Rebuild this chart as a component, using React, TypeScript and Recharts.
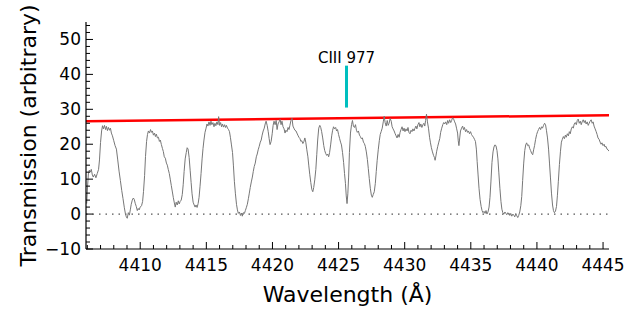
import {
  LineChart,
  Line,
  XAxis,
  YAxis,
  ReferenceLine,
  ReferenceDot,
  Label
} from 'recharts';

// wavelength (Å) and transmission
const wavelengths = [
  4405.95, 4406.02, 4406.08, 4406.15, 4406.22, 4406.3, 4406.38, 4406.45, 4406.55, 4406.65, 4406.75, 4406.85, 4406.92,
  4407.0, 4407.08, 4407.15, 4407.22, 4407.3, 4407.38, 4407.45, 4407.52, 4407.6, 4407.68, 4407.75, 4407.82, 4407.9,
  4408.0, 4408.1, 4408.2, 4408.3, 4408.4, 4408.5, 4408.6, 4408.7, 4408.8, 4408.88, 4408.95,
  4409.02, 4409.1, 4409.18, 4409.25, 4409.32, 4409.4, 4409.48, 4409.55, 4409.62, 4409.7, 4409.78, 4409.85, 4409.92,
  4410.0, 4410.1, 4410.18, 4410.25, 4410.33, 4410.4, 4410.48, 4410.55, 4410.62, 4410.7, 4410.78, 4410.85, 4410.92,
  4411.0, 4411.08, 4411.15, 4411.22, 4411.3, 4411.38, 4411.45, 4411.52, 4411.6, 4411.68, 4411.75, 4411.82, 4411.9, 4411.98,
  4412.05, 4412.12, 4412.2, 4412.28, 4412.35, 4412.42, 4412.5, 4412.58, 4412.65, 4412.72, 4412.8, 4412.88, 4412.95,
  4413.02, 4413.1, 4413.18, 4413.25, 4413.32, 4413.4, 4413.48, 4413.55, 4413.62, 4413.7, 4413.78, 4413.85, 4413.92,
  4414.0, 4414.08, 4414.15, 4414.22, 4414.3, 4414.38, 4414.45, 4414.52, 4414.6, 4414.68, 4414.75, 4414.82, 4414.9, 4414.98,
  4415.05, 4415.12, 4415.2, 4415.28, 4415.35, 4415.42, 4415.5, 4415.58, 4415.65, 4415.72, 4415.8, 4415.88, 4415.93,
  4416.0, 4416.08, 4416.15, 4416.22, 4416.3, 4416.38, 4416.45, 4416.52, 4416.6, 4416.68, 4416.75, 4416.82, 4416.9, 4416.98,
  4417.05, 4417.12, 4417.2, 4417.28, 4417.35, 4417.42, 4417.5, 4417.58, 4417.65, 4417.72, 4417.8, 4417.88, 4417.95,
  4418.02, 4418.1, 4418.18, 4418.25, 4418.32, 4418.4, 4418.48, 4418.55, 4418.62, 4418.7, 4418.78, 4418.85, 4418.92,
  4419.0, 4419.08, 4419.15, 4419.22, 4419.3, 4419.38, 4419.45, 4419.52, 4419.6, 4419.68, 4419.75, 4419.82, 4419.9, 4419.98,
  4420.05, 4420.12, 4420.2, 4420.28, 4420.35, 4420.42, 4420.5, 4420.58, 4420.65, 4420.72, 4420.8, 4420.88, 4420.95,
  4421.02, 4421.1, 4421.18, 4421.25, 4421.32, 4421.4, 4421.48, 4421.55, 4421.62, 4421.7, 4421.78, 4421.85, 4421.92,
  4422.0, 4422.08, 4422.15, 4422.22, 4422.3, 4422.38, 4422.45, 4422.52, 4422.6, 4422.68, 4422.75, 4422.82, 4422.9, 4422.98,
  4423.05, 4423.12, 4423.2, 4423.28, 4423.35, 4423.42, 4423.5, 4423.58, 4423.65, 4423.72, 4423.8, 4423.88, 4423.95,
  4424.02, 4424.1, 4424.18, 4424.25, 4424.32, 4424.4, 4424.48, 4424.55, 4424.62, 4424.7, 4424.78, 4424.85, 4424.92,
  4425.0, 4425.08, 4425.15, 4425.22, 4425.3, 4425.38, 4425.45, 4425.52, 4425.58, 4425.64, 4425.7, 4425.76, 4425.82, 4425.9, 4425.98,
  4426.05, 4426.12, 4426.2, 4426.28, 4426.35, 4426.42, 4426.5, 4426.58, 4426.65, 4426.72, 4426.8, 4426.88, 4426.95,
  4427.02, 4427.1, 4427.18, 4427.25, 4427.32, 4427.4, 4427.48, 4427.55, 4427.62, 4427.7, 4427.78, 4427.85, 4427.92,
  4428.0, 4428.08, 4428.15, 4428.22, 4428.3, 4428.38, 4428.45, 4428.52, 4428.6, 4428.68, 4428.75, 4428.82, 4428.9, 4428.98,
  4429.05, 4429.12, 4429.2, 4429.28, 4429.35, 4429.42, 4429.5, 4429.58, 4429.65, 4429.72, 4429.8, 4429.88, 4429.95,
  4430.02, 4430.1, 4430.18, 4430.25, 4430.32, 4430.4, 4430.48, 4430.55, 4430.62, 4430.7, 4430.78, 4430.85, 4430.92,
  4431.0, 4431.08, 4431.15, 4431.22, 4431.3, 4431.38, 4431.45, 4431.52, 4431.58, 4431.65, 4431.72, 4431.8, 4431.88, 4431.95,
  4432.02, 4432.1, 4432.18, 4432.25, 4432.3, 4432.36, 4432.42, 4432.5, 4432.58, 4432.65, 4432.72, 4432.8, 4432.88, 4432.95,
  4433.02, 4433.1, 4433.18, 4433.25, 4433.32, 4433.4, 4433.48, 4433.55, 4433.62, 4433.7, 4433.78, 4433.85, 4433.92,
  4434.0, 4434.05, 4434.1, 4434.16, 4434.22, 4434.3, 4434.38, 4434.45, 4434.52, 4434.6, 4434.68, 4434.75, 4434.82, 4434.9, 4434.98,
  4435.05, 4435.12, 4435.2, 4435.28, 4435.35, 4435.42, 4435.48, 4435.55, 4435.62, 4435.7, 4435.78, 4435.85, 4435.92,
  4436.0, 4436.08, 4436.15, 4436.22, 4436.3, 4436.38, 4436.45, 4436.52, 4436.6, 4436.68, 4436.75, 4436.82, 4436.9, 4436.98,
  4437.05, 4437.12, 4437.2, 4437.28, 4437.35, 4437.42, 4437.5, 4437.58, 4437.65, 4437.72, 4437.8, 4437.88, 4437.95,
  4438.02, 4438.1, 4438.18, 4438.25, 4438.32, 4438.4, 4438.48, 4438.55, 4438.62, 4438.7, 4438.78, 4438.85, 4438.92,
  4439.0, 4439.08, 4439.15, 4439.22, 4439.3, 4439.38, 4439.45, 4439.52, 4439.6, 4439.68, 4439.75, 4439.82, 4439.9, 4439.98,
  4440.05, 4440.12, 4440.2, 4440.28, 4440.35, 4440.42, 4440.5, 4440.58, 4440.65, 4440.72, 4440.8, 4440.88, 4440.95,
  4441.02, 4441.1, 4441.18, 4441.25, 4441.32, 4441.4, 4441.48, 4441.55, 4441.62, 4441.7, 4441.78, 4441.85, 4441.92,
  4442.0, 4442.08, 4442.15, 4442.22, 4442.3, 4442.38, 4442.45, 4442.52, 4442.6, 4442.68, 4442.75, 4442.82, 4442.9, 4442.98,
  4443.05, 4443.12, 4443.2, 4443.28, 4443.35, 4443.42, 4443.5, 4443.58, 4443.65, 4443.72, 4443.8, 4443.88, 4443.95,
  4444.02, 4444.1, 4444.18, 4444.25, 4444.32, 4444.4, 4444.48, 4444.55, 4444.62, 4444.7, 4444.78, 4444.85, 4444.92,
  4445.0, 4445.08, 4445.15, 4445.22, 4445.3, 4445.38, 4445.45
];

const transmission = [
  3, 8, 11.5, 12.6, 12.0, 12.8, 11.2, 10.6, 11.4, 10.4, 11.6, 12.8, 15.5,
  20.5, 23.8, 25.3, 24.4, 25.4, 24.2, 25.1, 23.9, 24.8, 24.0, 24.6, 23.2, 22.4,
  21.0, 19.6, 18.6, 15.5, 12.3, 9.6, 6.8, 4.4, 1.8, 0.1, -0.8,
  -1.2, 0.4, -0.3, 1.2, 2.8, 4.0, 4.6, 4.2, 3.1, 2.2, 1.0, 1.6, 1.2,
  2.0, 2.4, 3.6, 6.5, 11.0, 16.5, 20.8, 22.8, 23.8, 23.2, 24.2, 23.4, 23.8,
  22.6, 23.2, 22.2, 22.9, 21.8, 22.0, 20.8, 21.2, 19.9, 18.8, 17.9, 16.4, 16.0, 14.6,
  14.0, 12.8, 11.6, 9.8, 8.2, 6.6, 4.8, 3.2, 2.0, 3.4, 2.6, 3.8, 2.9,
  3.6, 4.0, 5.6, 8.4, 12.2, 15.8, 17.6, 19.0, 18.6, 16.2, 12.4, 9.0, 5.8,
  3.4, 2.6, 2.0, 2.6, 1.9, 3.0, 4.8, 7.8, 11.6, 15.8, 18.8, 21.2, 23.4, 24.6,
  25.8, 25.2, 26.4, 25.4, 26.6, 25.6, 26.2, 25.0, 26.0, 25.3, 26.4, 25.6, 27.9,
  25.4, 26.2, 25.0, 25.8, 24.9, 25.6, 24.8, 25.4, 24.6, 24.2, 23.6, 22.0, 19.8, 17.6,
  13.8, 9.4, 5.8, 2.8, 1.2, 0.2, 0.6, -0.4, 0.3, -0.6, 0.4, 0.2, 1.0,
  1.8, 2.8, 4.4, 6.0, 7.6, 9.2, 10.6, 12.2, 13.6, 14.6, 16.4, 17.2, 18.4,
  19.4, 20.6, 21.2, 22.6, 23.8, 24.6, 25.8, 26.6, 25.4, 23.6, 21.6, 19.9, 20.8, 23.0,
  25.4, 26.6, 25.6, 26.8, 24.2, 25.8, 26.4, 27.1, 25.6, 26.6, 25.0, 24.4, 23.2,
  24.0, 23.6, 24.8, 24.2, 25.4, 26.8, 27.4, 25.2, 24.6, 24.0, 23.8, 23.2, 22.6,
  22.0, 21.6, 20.8, 21.0, 20.2, 20.8, 21.8, 20.6, 18.4, 16.4, 13.8, 11.4, 9.0, 7.0,
  6.4, 7.6, 9.8, 12.8, 17.0, 21.2, 24.6, 25.4, 24.8, 23.6, 21.8, 19.6, 18.2,
  17.4, 16.8, 17.2, 16.4, 17.6, 19.8, 22.4, 24.0, 25.0, 24.4, 24.8, 23.8, 24.2,
  22.8, 21.6, 20.6, 19.8, 17.6, 14.8, 11.6, 8.8, 5.2, 3.0, 5.8, 10.6, 17.6, 23.2, 25.6,
  26.8, 25.2, 24.8, 25.6, 24.0, 23.4, 23.8, 22.6, 22.2, 21.6, 21.8, 20.6, 20.2,
  19.4, 17.8, 15.6, 13.0, 10.2, 7.4, 5.4, 4.8, 5.6, 6.4, 8.8, 12.2, 15.4,
  18.4, 21.0, 22.8, 23.6, 24.6, 26.4, 28.0, 26.2, 25.2, 26.8, 25.4, 26.0, 27.4, 26.6,
  25.0, 24.4, 23.8, 23.0, 22.4, 21.8, 22.8, 22.0, 23.4, 24.2, 25.0, 23.8, 24.6,
  23.6, 24.4, 23.8, 24.8, 23.4, 23.0, 24.0, 23.6, 24.4, 23.8, 24.6, 25.2, 24.4,
  25.6, 26.2, 25.0, 25.8, 24.8, 25.6, 26.0, 25.2, 26.8, 28.6, 26.4, 24.6, 22.0, 20.4,
  19.0, 17.8, 16.8, 16.2, 15.4, 16.6, 18.0, 19.4, 20.6, 21.6, 23.4, 24.6, 25.6, 26.2,
  25.8, 26.4, 25.6, 26.8, 26.0, 27.0, 26.2, 26.8, 27.6, 27.2, 26.4, 25.8, 24.6,
  23.2, 21.0, 19.6, 21.8, 23.8, 24.6, 25.2, 24.2, 24.8, 23.6, 24.2, 23.4, 23.8, 23.0, 23.6,
  22.8, 22.4, 22.0, 21.4, 20.8, 18.6, 15.0, 11.2, 7.4, 4.2, 2.2, 1.0, 0.4,
  0.8, 0.2, 1.0, 0.0, 0.6, 2.0, 4.8, 9.2, 14.8, 17.8, 19.2, 19.8, 19.6, 18.2,
  15.8, 11.8, 7.4, 3.6, 1.4, 0.4, 0.0, 0.6, 0.2, -0.2, 0.4, 0.0, -0.4,
  0.2, -0.6, 0.0, -0.3, -0.8, 0.0, -0.5, -1.0, -0.4, 0.6, 2.4, 5.0, 9.6,
  14.6, 18.2, 19.8, 20.4, 19.6, 19.8, 18.8, 18.2, 17.4, 17.0, 18.4, 19.6, 21.4, 22.8,
  23.6, 24.2, 24.8, 24.2, 25.0, 24.6, 25.4, 26.0, 25.6, 24.0, 21.8, 18.6, 14.6,
  10.6, 6.0, 2.6, 1.0, 0.4, 0.8, 2.2, 5.4, 9.4, 14.2, 18.0, 20.6, 21.4,
  22.2, 21.6, 22.6, 22.0, 23.0, 22.4, 23.6, 23.0, 24.4, 25.0, 24.6, 25.8, 26.2, 25.6,
  26.8, 27.2, 26.0, 26.6, 25.6, 26.4, 27.0, 26.2, 26.8, 25.8, 26.4, 25.4, 26.0,
  26.6, 27.0, 26.0, 26.4, 25.2, 24.4, 23.6, 22.8, 21.8, 21.4, 20.6, 20.0, 20.4,
  19.6, 20.0, 19.2, 19.4, 18.6, 18.4, 18.0
];

// fitted continuum (straight line across the window)
const continuumWaves = [4405.9, 4445.45];
const continuumLevels = [26.6, 28.3];

// absorption line marker
const markerWave = 4425.6;
const markerLow = 30.5;
const markerHigh = 42.5;
const markerTextLevel = 43.2;
const markerText = 'CIII 977';

const xDomain: [number, number] = [4405.9, 4445.45];
const yDomain: [number, number] = [-10, 55];
const xTicks = Array.from({ length: 40 }, (_, i) => 4406 + i);
const yTicks = Array.from({ length: 33 }, (_, i) => -10 + i * 2);

const spectrum = wavelengths.map((w, i) => ({ w, f: transmission[i] }));
const continuum = continuumWaves.map((w, i) => ({ w, c: continuumLevels[i] }));

const FONT = 'DejaVu Sans';
const MAJOR = 7;
const MINOR = 4;

const BottomTick = ({ x, y, payload }: any) => {
  const major = payload.value % 5 === 0;
  return (
    <g>
      <line x1={x} x2={x} y1={y} y2={y - (major ? MAJOR : MINOR)} stroke="#000" strokeWidth={1} />
      {major && (
        <text x={x} y={y + 22} textAnchor="middle" fontSize={17} fontFamily={FONT} fill="#000">
          {payload.value}
        </text>
      )}
    </g>
  );
};

const TopTick = ({ x, y, payload }: any) => {
  const major = payload.value % 5 === 0;
  return <line x1={x} x2={x} y1={y} y2={y + (major ? MAJOR : MINOR)} stroke="#000" strokeWidth={1} />;
};

const LeftTick = ({ x, y, payload }: any) => {
  const major = payload.value % 10 === 0;
  return (
    <g>
      <line x1={x} x2={x + (major ? MAJOR : MINOR)} y1={y} y2={y} stroke="#000" strokeWidth={1} />
      {major && (
        <text x={x - 5} y={y + 6} textAnchor="end" fontSize={17} fontFamily={FONT} fill="#000">
          {payload.value < 0 ? `\u2212${Math.abs(payload.value)}` : payload.value}
        </text>
      )}
    </g>
  );
};

const RightTick = ({ x, y, payload }: any) => {
  const major = payload.value % 10 === 0;
  return <line x1={x} x2={x - (major ? MAJOR : MINOR)} y1={y} y2={y} stroke="#000" strokeWidth={1} />;
};

export default function App() {
  return (
    <div style={{ position: 'absolute', left: 0, top: 0, background: '#fff' }}>
      <LineChart width={641} height={311} data={spectrum} margin={{ top: 22, right: 32, bottom: 0, left: 0 }}>
        <XAxis
          xAxisId="b"
          dataKey="w"
          type="number"
          domain={xDomain}
          allowDataOverflow
          ticks={xTicks}
          interval={0}
          tickSize={0}
          tickMargin={0}
          tick={<BottomTick />}
          axisLine={{ stroke: '#000', strokeWidth: 1.2 }}
          height={62}
        >
          <Label
            content={({ viewBox }: any) => (
              <text
                x={viewBox.x + viewBox.width / 2}
                y={viewBox.y + 53}
                textAnchor="middle"
                fontSize={22}
                fontFamily={FONT}
                fill="#000"
              >
                Wavelength (Å)
              </text>
            )}
          />
        </XAxis>
        <XAxis
          xAxisId="t"
          orientation="top"
          dataKey="w"
          type="number"
          domain={xDomain}
          allowDataOverflow
          ticks={xTicks}
          interval={0}
          tickSize={0}
          tickMargin={0}
          tick={<TopTick />}
          axisLine={{ stroke: '#000', strokeWidth: 1.2 }}
          height={0}
        />
        <YAxis
          yAxisId="l"
          type="number"
          domain={yDomain}
          allowDataOverflow
          ticks={yTicks}
          interval={0}
          tickSize={0}
          tickMargin={0}
          tick={<LeftTick />}
          axisLine={{ stroke: '#000', strokeWidth: 1.2 }}
          width={86}
        >
          <Label
            content={({ viewBox }: any) => {
              const cy = viewBox.y + viewBox.height / 2;
              return (
                <text
                  x={36}
                  y={cy}
                  transform={`rotate(-90 36 ${cy})`}
                  textAnchor="middle"
                  fontSize={22}
                  fontFamily={FONT}
                  fill="#000"
                >
                  Transmission (arbitrary)
                </text>
              );
            }}
          />
        </YAxis>
        <YAxis
          yAxisId="r"
          orientation="right"
          type="number"
          domain={yDomain}
          allowDataOverflow
          ticks={yTicks}
          interval={0}
          tickSize={0}
          tickMargin={0}
          tick={<RightTick />}
          axisLine={{ stroke: '#000', strokeWidth: 1.2 }}
          width={0}
        />
        <ReferenceLine
          xAxisId="b"
          yAxisId="l"
          y={0}
          stroke="#555"
          strokeWidth={1.2}
          strokeDasharray="1.5 5"
        />
        <ReferenceLine
          xAxisId="b"
          yAxisId="l"
          segment={[
            { x: markerWave, y: markerLow },
            { x: markerWave, y: markerHigh }
          ]}
          stroke="#00bfbf"
          strokeWidth={3}
        />
        <ReferenceDot
          xAxisId="b"
          yAxisId="l"
          x={markerWave}
          y={markerTextLevel}
          r={1}
          fill="none"
          stroke="none"
          label={{
            content: ({ viewBox }: any) => (
              <text
                x={viewBox.x + viewBox.width / 2}
                y={viewBox.y + viewBox.height / 2}
                textAnchor="middle"
                fontSize={15}
                fontFamily={FONT}
                fill="#000"
              >
                {markerText}
              </text>
            )
          }}
        />
        <Line
          xAxisId="b"
          yAxisId="l"
          data={continuum}
          dataKey="c"
          type="linear"
          stroke="#ff0000"
          strokeWidth={2.5}
          dot={false}
          isAnimationActive={false}
        />
        <Line
          xAxisId="b"
          yAxisId="l"
          dataKey="f"
          type="linear"
          stroke="#777777"
          strokeWidth={1}
          dot={false}
          isAnimationActive={false}
        />
      </LineChart>
    </div>
  );
}
